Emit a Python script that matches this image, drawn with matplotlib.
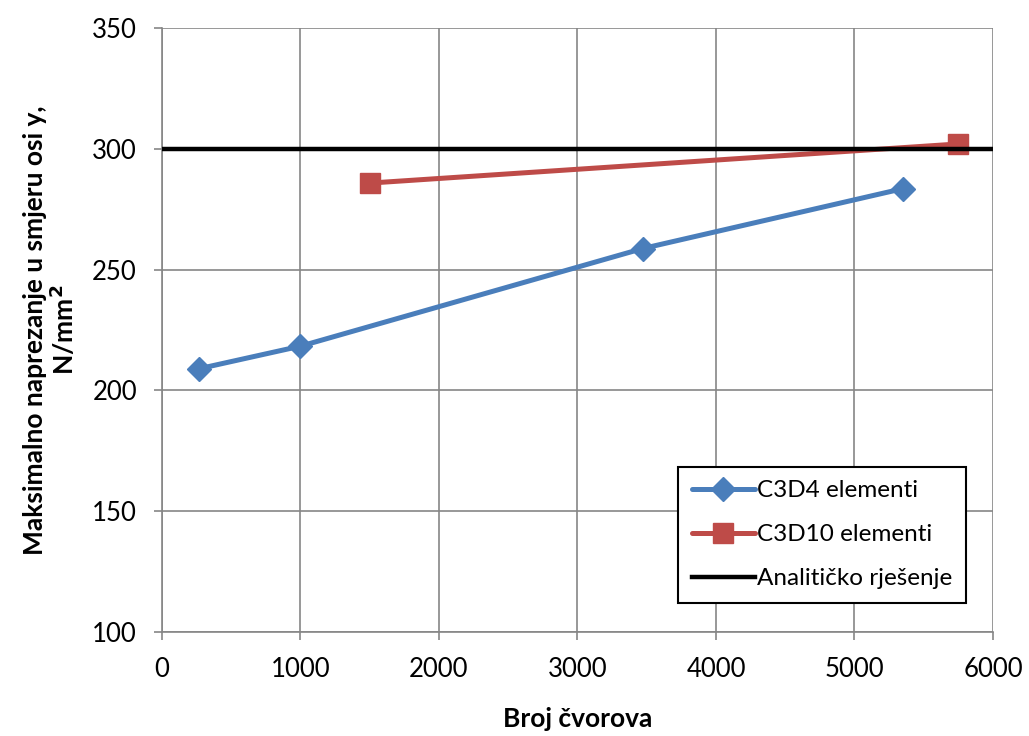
import matplotlib
matplotlib.use('Agg')
import matplotlib.pyplot as plt

plt.rcParams['font.family'] = ['Lato', 'DejaVu Sans']

# data
c3d4_x = [270, 1000, 3470, 5350]
c3d4_y = [209, 218.3, 258.7, 283.5]
c3d10_x = [1500, 5750]
c3d10_y = [285.8, 302]
analytic_x = [0, 6000]
analytic_y = [300, 300]

labels = ['C3D4 elementi', 'C3D10 elementi', 'Analitičko rješenje']
grid_col = '#868686'

fig = plt.figure(figsize=(10.29, 7.36), dpi=100)
ax = fig.add_axes([0.1574, 0.1413, 0.8076, 0.8207])

ax.plot(c3d4_x, c3d4_y, color='#4A7EBB', lw=3.6, marker='D', ms=12,
        label=labels[0], zorder=3, solid_capstyle='round')
ax.plot(c3d10_x, c3d10_y, color='#BE4B48', lw=3.6, marker='s', ms=14,
        label=labels[1], zorder=3, solid_capstyle='round')
ax.plot(analytic_x, analytic_y, color='black', lw=3.2, label=labels[2], zorder=4)

ax.set_xlim(0, 6000)
ax.set_ylim(100, 350)
ax.set_xticks(range(0, 6001, 1000))
ax.set_yticks(range(100, 351, 50))
ax.grid(True, color=grid_col, lw=1.2)
ax.set_axisbelow(True)

for s in ['top', 'right']:
    ax.spines[s].set_visible(False)
for s in ['left', 'bottom']:
    ax.spines[s].set_color(grid_col)
    ax.spines[s].set_linewidth(1.2)
ax.tick_params(axis='both', colors=grid_col, length=6, width=1.2,
               labelcolor='black', labelsize=18.5)
ax.tick_params(axis='x', pad=12)
ax.tick_params(axis='y', pad=12)

ax.set_xlabel('Broj čvorova', fontsize=19, fontweight='bold', labelpad=18)
ax.set_ylabel('Maksimalno naprezanje u smjeru osi y,\nN/mm$^\\mathbf{2}$',
              fontsize=19, fontweight='bold', labelpad=10, linespacing=1.05)

leg = ax.legend(loc='lower right', bbox_to_anchor=(0.9675, 0.0485), fontsize=17.5,
                fancybox=False, edgecolor='black', framealpha=1,
                handlelength=2.6, handletextpad=0.1, labelspacing=0.95,
                borderpad=0.55, borderaxespad=0)
leg.get_frame().set_linewidth(1.5)

fig.savefig('out.png', dpi=100)
